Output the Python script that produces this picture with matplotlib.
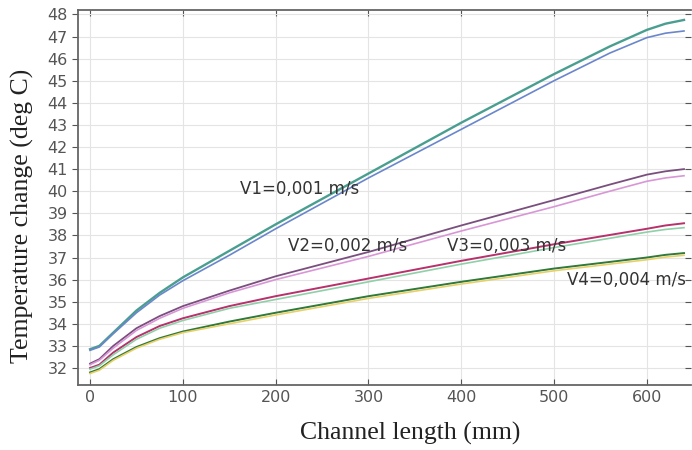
import numpy as np
import matplotlib.pyplot as plt

# channel position (mm)
x = [0, 10, 25, 50, 75, 100, 150, 200, 300, 400, 500, 560, 600, 620, 640]

# temperature (deg C), two curves per inlet velocity
v1a = [32.85, 33.0, 33.6, 34.6, 35.4, 36.1, 37.3, 38.5, 40.8, 43.1, 45.3, 46.55, 47.3, 47.58, 47.75]
v1b = [32.8, 32.95, 33.55, 34.5, 35.3, 35.95, 37.1, 38.3, 40.6, 42.8, 45.0, 46.25, 46.95, 47.15, 47.25]
v2a = [32.2, 32.4, 33.0, 33.8, 34.35, 34.8, 35.5, 36.15, 37.25, 38.45, 39.6, 40.3, 40.75, 40.9, 41.0]
v2b = [32.15, 32.35, 32.9, 33.7, 34.25, 34.7, 35.4, 36.0, 37.05, 38.2, 39.3, 40.0, 40.45, 40.6, 40.7]
v3a = [32.0, 32.15, 32.7, 33.4, 33.9, 34.25, 34.8, 35.25, 36.05, 36.85, 37.6, 38.02, 38.3, 38.45, 38.55]
v3b = [31.95, 32.1, 32.6, 33.3, 33.8, 34.15, 34.7, 35.1, 35.9, 36.7, 37.45, 37.87, 38.15, 38.27, 38.35]
v4a = [31.8, 31.95, 32.4, 32.95, 33.35, 33.65, 34.1, 34.5, 35.25, 35.9, 36.5, 36.8, 37.0, 37.12, 37.2]
v4b = [31.75, 31.9, 32.35, 32.9, 33.3, 33.6, 34.0, 34.4, 35.15, 35.8, 36.4, 36.7, 36.9, 37.02, 37.1]

labels = ['V1=0,001 m/s', 'V2=0,002 m/s', 'V3=0,003 m/s', 'V4=0,004 m/s']
label_pos = [(162, 40.1), (213, 37.5), (385, 37.5), (514, 36.0)]

fig = plt.figure(figsize=(6.92, 4.5), dpi=100)
ax = fig.add_axes([0.1127, 0.1444, 0.8858, 0.8334])

ax.plot(x, v1a, color='#4a9e90', lw=1.7)
ax.plot(x, v1b, color='#6a86cc', lw=1.2)
ax.plot(x, v2a, color='#7a4f7e', lw=1.3)
ax.plot(x, v2b, color='#d996d6', lw=1.2)
ax.plot(x, v3a, color='#b8306c', lw=1.4)
ax.plot(x, v3b, color='#8fd0a8', lw=1.2)
ax.plot(x, v4a, color='#2f7a3a', lw=1.4)
ax.plot(x, v4b, color='#e8cf6a', lw=1.2)

for lab, (tx, ty) in zip(labels, label_pos):
    ax.text(tx, ty, lab, fontsize=12, color='#333333', ha='left', va='center')

ax.set_xlim(-13, 647.5)
ax.set_ylim(31.23, 48.2)
ax.set_xticks(np.arange(0, 700, 100))
ax.set_yticks(np.arange(32, 49, 1))
ax.grid(True, color='#e4e4e4', lw=0.8)
ax.tick_params(axis='both', labelsize=11.5, colors='#555555', labelcolor='#555555')
ax.tick_params(axis='x', top=True, direction='in', length=4)
ax.tick_params(axis='y', right=True, direction='out', length=4)
for t in ax.yaxis.get_ticklines()[1::2]:
    t.set_marker(0)
for s in ax.spines.values():
    s.set_color('#666666')
    s.set_linewidth(1.3)
ax.spines['right'].set_visible(False)

ax.set_xlabel('Channel length (mm)', family='Liberation Serif', fontsize=18.5, color='#222222')
ax.set_ylabel('Temperature change (deg C)', family='Liberation Serif', fontsize=18.5, color='#222222')
ax.xaxis.set_label_coords(0.542, -0.128)
ax.xaxis.label.set_va('center')
ax.yaxis.set_label_coords(-0.09, 0.45)
ax.yaxis.label.set_va('center')

fig.savefig('out.png', dpi=100)
